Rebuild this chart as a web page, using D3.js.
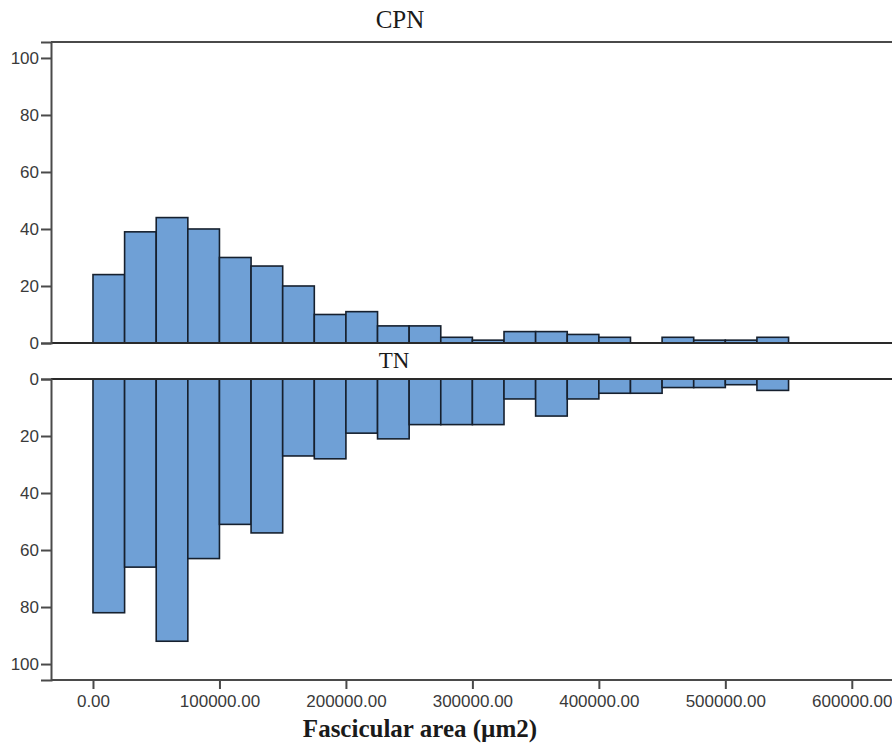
<!DOCTYPE html>
<html>
<head>
<meta charset="utf-8">
<script src="https://cdn.jsdelivr.net/npm/d3@7"></script>
<style>
  body { margin: 0; background: #fff; }
  .tick text { font-family: "Liberation Sans", Arial, sans-serif; fill: #3a3a3a; }
</style>
</head>
<body>
<svg id="chart" width="892" height="749"></svg>
<script>
// bin lower edges (width 25000)
var binStarts = [0, 25000, 50000, 75000, 100000, 125000, 150000, 175000,
                 200000, 225000, 250000, 275000, 300000, 325000, 350000, 375000,
                 400000, 425000, 450000, 475000, 500000, 525000, 550000, 575000];
var binWidth = 25000;
var cpnCounts = [24, 39, 44, 40, 30, 27, 20, 10, 11, 6, 6, 2, 1, 4, 4, 3, 2, 0, 2, 1, 1, 2, 0, 0];
var tnCounts  = [82, 66, 92, 63, 51, 54, 27, 28, 19, 21, 16, 16, 16, 7, 13, 7, 5, 5, 3, 3, 2, 4, 0, 0];
var xTicks = [0, 100000, 200000, 300000, 400000, 500000, 600000];
var yTicks = [0, 20, 40, 60, 80, 100];

var svg = d3.select("#chart");
var left = 51, right = 891;

var x = d3.scaleLinear().domain([-33200, 631000]).range([left, right]);
var yTop = d3.scaleLinear().domain([0, 105.6]).range([343, 42]);
var yBot = d3.scaleLinear().domain([0, 105.6]).range([379, 680]);

var barFill = "#6fa0d6", barStroke = "#16202e", axisCol = "#4a4a4a";

function drawBars(counts, y, down) {
  svg.append("g").selectAll("rect")
    .data(binStarts)
    .enter()
    .append("rect")
    .attr("x", function(d){ return x(d); })
    .attr("width", function(d){ return x(d + binWidth) - x(d); })
    .attr("y", function(d, i){ return down ? y(0) : y(counts[i]); })
    .attr("height", function(d, i){ return Math.abs(y(counts[i]) - y(0)); })
    .style("fill", barFill)
    .style("stroke", barStroke)
    .style("stroke-width", 1.6);
}

drawBars(cpnCounts, yTop, false);
drawBars(tnCounts, yBot, true);

// frame lines
function line(x1, y1, x2, y2, col, w) {
  svg.append("line").attr("x1", x1).attr("y1", y1).attr("x2", x2).attr("y2", y2)
    .style("stroke", col).style("stroke-width", w);
}
line(left, 42, 892, 42, axisCol, 2);
line(left, 343, 892, 343, "#2a2a2a", 2);
line(left, 379, 892, 379, "#2a2a2a", 2);
line(left, 680, 892, 680, axisCol, 2);

// y axes
function yAxis(y) {
  var g = svg.append("g").attr("transform", "translate(" + left + ",0)")
    .call(d3.axisLeft(y).tickValues(yTicks).tickSize(10).tickPadding(2).tickFormat(d3.format("d")));
  g.select(".domain").style("stroke", axisCol).style("stroke-width", 2);
  g.selectAll(".tick line").style("stroke", axisCol).style("stroke-width", 2);
  g.selectAll(".tick text").style("font-size", "17px");
}
yAxis(yTop);
yAxis(yBot);

// x axis
var gx = svg.append("g").attr("transform", "translate(0,680)")
  .call(d3.axisBottom(x).tickValues(xTicks).tickSize(9).tickPadding(6).tickFormat(d3.format(".2f")));
gx.select(".domain").remove();
gx.selectAll(".tick line").style("stroke", axisCol).style("stroke-width", 2);
gx.selectAll(".tick text").style("font-size", "17px");

// titles
svg.append("text").attr("x", 400).attr("y", 28).attr("text-anchor", "middle")
  .style("font-family", "'Liberation Serif', 'Times New Roman', serif").style("font-size", "25px")
  .style("fill", "#1a1a1a").text("CPN");
svg.append("text").attr("x", 394).attr("y", 368).attr("text-anchor", "middle")
  .style("font-family", "'Liberation Serif', 'Times New Roman', serif").style("font-size", "23px")
  .style("fill", "#1a1a1a").text("TN");
svg.append("text").attr("x", 420).attr("y", 737).attr("text-anchor", "middle")
  .style("font-family", "'Liberation Serif', 'Times New Roman', serif").style("font-size", "25px")
  .style("font-weight", "bold").style("fill", "#1a1a1a").text("Fascicular area (\u00b5m2)");
</script>
</body>
</html>
